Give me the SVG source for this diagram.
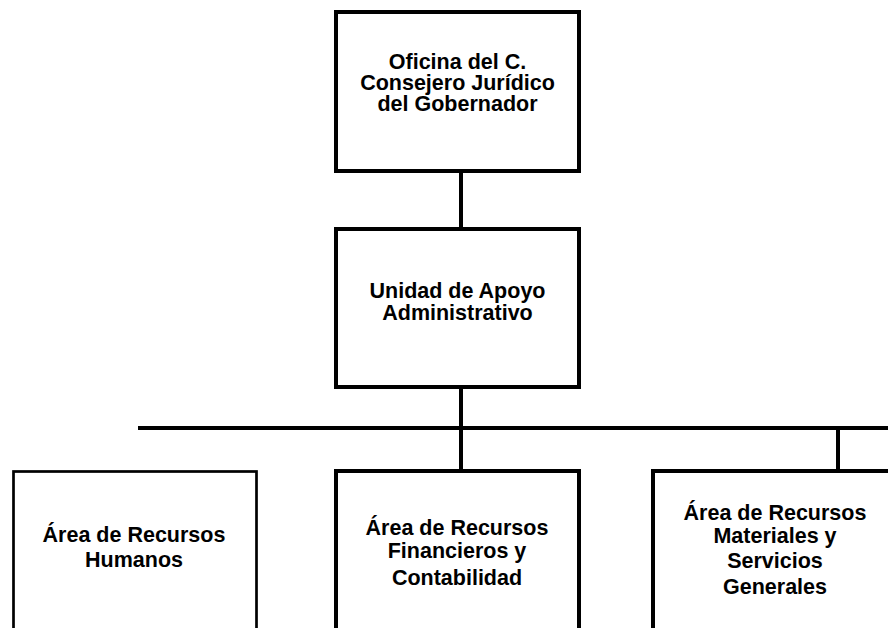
<svg xmlns="http://www.w3.org/2000/svg" width="888" height="628" viewBox="0 0 888 628">
<style>
.box{fill:#fff;stroke:#000;stroke-width:4}
.thin{stroke-width:2.7}
.t{font-family:"Liberation Sans",Arial,sans-serif;font-weight:bold;font-size:21.5px;fill:#000;text-anchor:middle}
.c{stroke:#000;stroke-width:4;fill:none}
</style>
<rect width="888" height="628" fill="#fff"/>
<g id="connectors">
<line class="c" x1="461" y1="171" x2="461" y2="229"/>
<line class="c" x1="461" y1="387" x2="461" y2="471"/>
<line class="c" x1="138" y1="428" x2="888" y2="428"/>
<line class="c" x1="838" y1="428" x2="838" y2="471"/>
</g>
<g id="oficina">
<rect class="box" x="336" y="12" width="243" height="159"/>
<text class="t" x="457.5" y="69">Oficina del C.</text>
<text class="t" x="457.5" y="90">Consejero Jurídico</text>
<text class="t" x="457.5" y="111">del Gobernador</text>
</g>
<g id="unidad">
<rect class="box" x="336" y="229" width="243" height="158"/>
<text class="t" x="457.5" y="298">Unidad de Apoyo</text>
<text class="t" x="457.5" y="320">Administrativo</text>
</g>
<g id="humanos">
<rect class="box thin" x="13.5" y="471.5" width="243" height="170"/>
<text class="t" x="134" y="542">Área de Recursos</text>
<text class="t" x="134" y="567">Humanos</text>
</g>
<g id="financieros">
<rect class="box" x="336" y="471" width="243" height="170"/>
<text class="t" x="457" y="535">Área de Recursos</text>
<text class="t" x="457" y="558">Financieros y</text>
<text class="t" x="457" y="585">Contabilidad</text>
</g>
<g id="materiales">
<rect class="box" x="653" y="471" width="244" height="170"/>
<text class="t" x="775" y="520">Área de Recursos</text>
<text class="t" x="775" y="543">Materiales y</text>
<text class="t" x="775" y="568">Servicios</text>
<text class="t" x="775" y="594">Generales</text>
</g>
</svg>
